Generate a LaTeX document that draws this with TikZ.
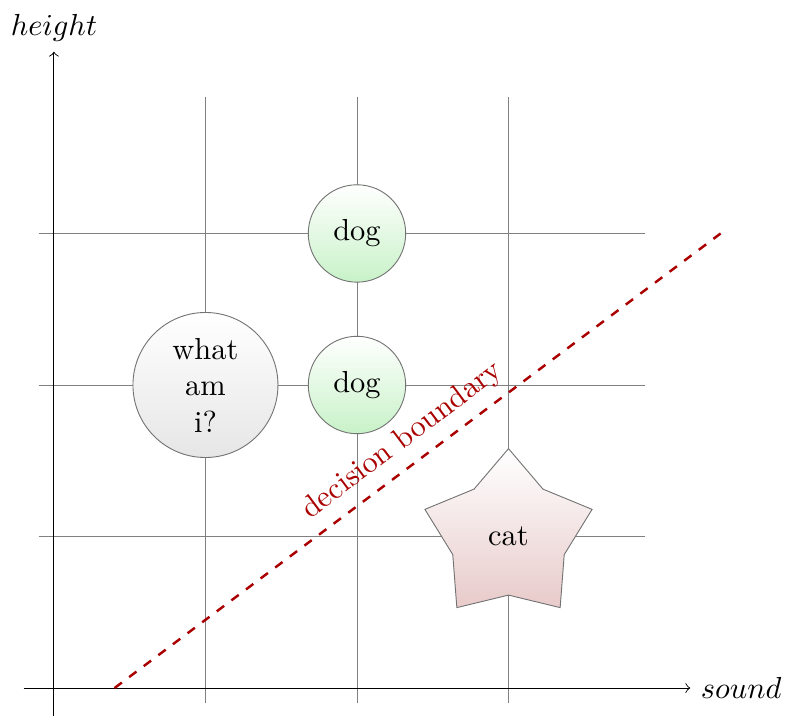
\documentclass[tikz,border=0pt]{standalone}
\usetikzlibrary{shapes.geometric}
\definecolor{boundred}{RGB}{170,0,0}
\definecolor{doggreen}{RGB}{200,242,200}
\definecolor{whatgray}{RGB}{230,230,230}
\definecolor{catpink}{RGB}{232,202,202}
\begin{document}
\begin{tikzpicture}[x=1.75cm,y=1.75cm,
  gridline/.style={gray, line width=0.3pt},
  axisline/.style={->, black, line width=0.3pt},
  dognode/.style={circle, draw=gray!90!black, line width=0.3pt, top color=white, bottom color=doggreen, minimum size=1.125cm, inner sep=0pt},
  whatnode/.style={circle, draw=gray!90!black, line width=0.3pt, top color=white, bottom color=whatgray, minimum size=1.675cm, inner sep=0pt, align=center},
  catnode/.style={star, star points=5, star point ratio=1.5, draw=gray!90!black, line width=0.3pt, top color=white, bottom color=catpink, minimum size=2.03cm, inner sep=0pt},
  boundary/.style={boundred, dashed, thick}]
\useasboundingbox (-0.356,-0.178) rectangle (4.838,4.541);
\draw[gridline, step=1] (-0.1,-0.1) grid (3.9,3.9);
\draw[axisline] (-0.2,0) -- (4.2,0) node[right, black] (sx) {$sound$};
\draw[axisline] (0,-0.2) -- (0,4.2) node[above, black] (hy) {$height$};
\node[dognode] (dog1) at (2,3) {dog};
\node[dognode] (dog2) at (2,2) {dog};
\node[whatnode] (what) at (1,2) {what\\am\\i?};
\node[catnode] (cat) at (3,1) {cat};
\coordinate (b1) at (0.4,0);
\coordinate (b2) at (4.4,3);
\draw[boundary] (b1) -- (b2) node[midway, above, sloped, boundred] (bl) {decision boundary};
\end{tikzpicture}
\end{document}
